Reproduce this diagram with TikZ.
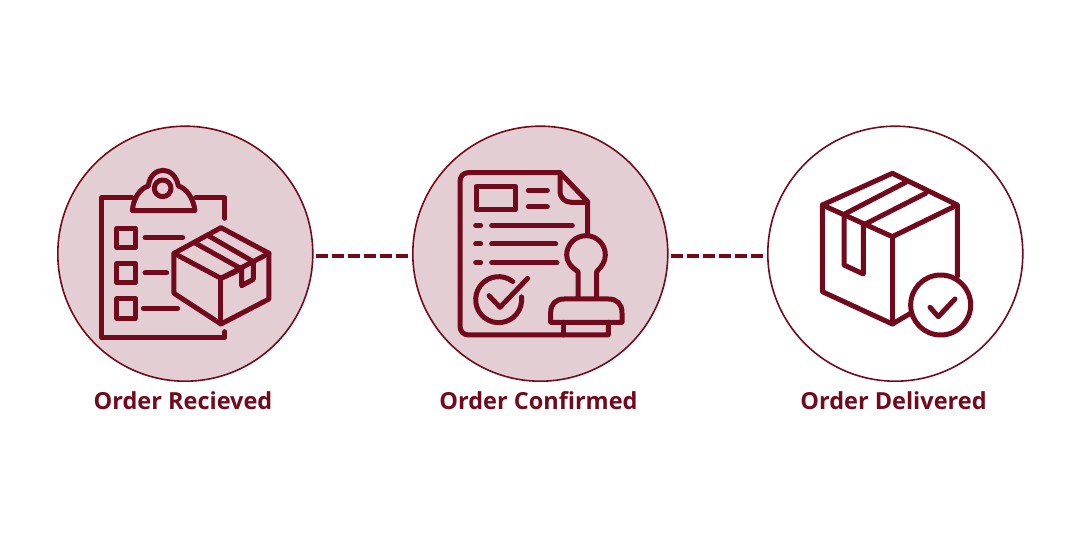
\documentclass[tikz,border=0pt]{standalone}
\usepackage{fontspec}
\setmainfont{Open Sans}
\definecolor{wine}{HTML}{720A1E}
\definecolor{blush}{HTML}{E3CFD3}
\tikzset{
  disc/.style={circle,draw=wine,line width=1.6pt,minimum size=255pt,inner sep=0pt},
  stagefilled/.style={disc,fill=blush},
  stageplain/.style={disc,fill=white},
  caption/.style={text=wine,font=\bfseries\fontsize{23.5}{26}\selectfont,anchor=base,inner sep=0pt},
  link/.style={draw=wine,line width=4pt,dash pattern=on 12pt off 4pt},
  ink/.style={draw=wine,line width=5pt,line cap=round,line join=round},
  zoomgrid/.style={x=0.33333pt,y=-0.33333pt}
}
\begin{document}
\begin{tikzpicture}[x=1pt,y=-1pt]
\useasboundingbox (0,0) rectangle (1080,540);
\fill[white] (0,0) rectangle (1080,540);
\node[stagefilled] (c1) at (185.3,253.7) {};
\node[stagefilled] (c2) at (540.3,253.7) {};
\node[stageplain] (c3) at (895.3,253.7) {};
\path[link] ([yshift=-2.2pt,xshift=2.6pt]c1.east) -- ([yshift=-2.2pt,xshift=-4pt]c2.west);
\path[link] ([yshift=-2.2pt,xshift=2pt]c2.east) -- ([yshift=-2.2pt,xshift=-4pt]c3.west);
\node[caption] (l1) at (183,409) {Order Recieved};
\node[caption] (l2) at (538.5,409) {Order Confirmed};
\node[caption] (l3) at (893.5,409) {Order Delivered};
% icon 1
\begin{scope}[shift={(50,120)},zoomgrid]
\draw[ink] (525,295) -- (525,233) -- (437,233);
\draw[ink] (246,233) -- (155,233) -- (155,653) -- (525,653) -- (525,635);
\draw[ink] (247,272) .. controls (250,235) and (270,205) .. (295,198)
  .. controls (298,168) and (318,151) .. (339,151)
  .. controls (360,151) and (380,168) .. (385,198)
  .. controls (410,205) and (430,235) .. (435,272) -- cycle;
\draw[ink] (338,205) circle[radius=25];
\draw[ink] (201,325) rectangle (257,383);
\draw[ink] (201,430) rectangle (257,489);
\draw[ink] (201,536) rectangle (257,595);
\draw[ink] (285,353) -- (398,353);
\draw[ink] (285,459) -- (350,459);
\draw[ink] (280,565) -- (383,565);
\draw[ink] (513,323) -- (657,400) -- (657,537) -- (513,612) -- (372,520) -- (372,400) -- cycle;
\draw[ink] (372,400) -- (513,475) -- (657,400);
\draw[ink] (513,475) -- (513,612);
\draw[ink] (437,370) -- (575,447) -- (575,497) -- (610,478) -- (610,425) -- (475,347);
\draw[ink] (513,475) -- (575,447);
\end{scope}
% icon 2
\begin{scope}[shift={(405,120)},zoomgrid]
\draw[ink] (548,340) -- (548,245) -- (465,158) -- (190,158)
  .. controls (174,158) and (165,170) .. (165,185) -- (165,618)
  .. controls (165,635) and (176,645) .. (192,645) -- (610,645) -- (610,607);
\draw[ink] (465,158) -- (465,212) .. controls (465,235) and (480,247) .. (500,247) -- (548,247);
\draw[ink] (213,200) rectangle (331,270);
\draw[ink] (370,211) -- (427,211);
\draw[ink] (370,260) -- (427,260);
\draw[ink] (212,316) -- (227,316);
\draw[ink] (260,316) -- (502,316);
\draw[ink] (212,372) -- (227,372);
\draw[ink] (260,372) -- (452,372);
\draw[ink] (212,428) -- (227,428);
\draw[ink] (260,428) -- (456,428);
\draw[ink] (323.5,484.6) arc[start angle=-52,end angle=-367,radius=69];
\draw[ink] (252,527) -- (285,562) -- (368,475);
\draw[ink] (519,535) -- (519,455) .. controls (497,440) and (485,425) .. (485,405)
  .. controls (485,372) and (512,347) .. (543,347)
  .. controls (575,347) and (601,372) .. (601,405)
  .. controls (601,425) and (590,440) .. (575,455) -- (575,535);
\draw[ink] (437,607) -- (437,578) .. controls (437,552) and (452,537) .. (478,537) -- (610,537)
  .. controls (636,537) and (651,552) .. (651,578) -- (651,607) -- cycle;
\draw[ink] (476,607) -- (476,645);
\end{scope}
% icon 3
\begin{scope}[shift={(760,120)},zoomgrid]
\draw[ink] (592,470) -- (592,255) -- (397,160) -- (187,255) -- (187,515) -- (397,612) -- (455,578);
\draw[ink] (187,255) -- (397,350) -- (592,255);
\draw[ink] (397,350) -- (397,612);
\draw[ink] (252,283) -- (437,187);
\draw[ink] (310,315) -- (497,220);
\draw[ink] (252,283) -- (252,435) -- (310,462) -- (310,315);
\draw[ink] (542,555) circle[radius=90];
\draw[ink] (510,562) -- (535,590) -- (585,537);
\end{scope}
\end{tikzpicture}
\end{document}
